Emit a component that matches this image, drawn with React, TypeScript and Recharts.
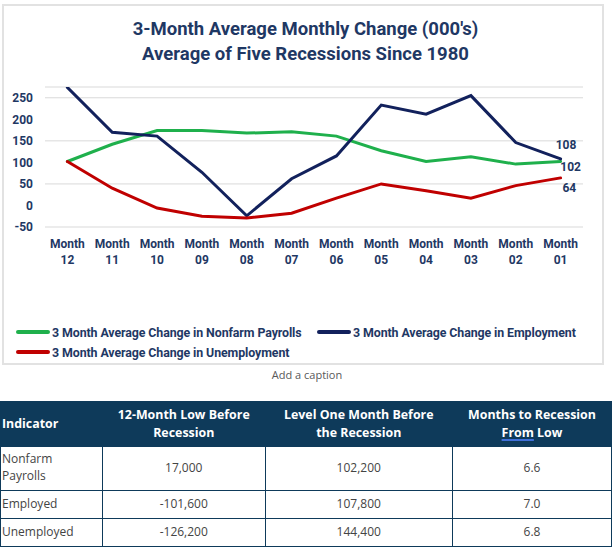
import React from 'react';
import { LineChart, Line, XAxis, YAxis, CartesianGrid, Legend, LabelList } from 'recharts';

const months = ['Month 12', 'Month 11', 'Month 10', 'Month 09', 'Month 08', 'Month 07', 'Month 06', 'Month 05', 'Month 04', 'Month 03', 'Month 02', 'Month 01'];
const nonfarm = [102, 142, 174, 174, 168, 171, 161, 127, 102, 113, 96, 102];
const employment = [274, 170, 161, 77, -24, 62, 115, 233, 212, 255, 146, 108];
const unemployment = [102, 40, -6, -25, -29, -18, 17, 50, 34, 17, 46, 64];
const yTicks = [-50, 0, 50, 100, 150, 200, 250];

const seriesNames = [
  '3 Month Average Change in Nonfarm Payrolls',
  '3 Month Average Change in Employment',
  '3 Month Average Change in Unemployment',
];
const titleLines = ["3-Month Average Monthly Change (000's)", 'Average of Five Recessions Since 1980'];

const tableHeaders = [
  ['Indicator'],
  ['12-Month Low Before', 'Recession'],
  ['Level One Month Before', 'the Recession'],
  ['Months to Recession', 'From Low'],
];
const indicators = [['Nonfarm', 'Payrolls'], ['Employed'], ['Unemployed']];
const lowBefore = ['17,000', '-101,600', '-126,200'];
const levelBefore = ['102,200', '107,800', '144,400'];
const monthsFromLow = ['6.6', '7.0', '6.8'];

const data = months.map((m, i) => ({
  month: m,
  nonfarm: nonfarm[i],
  employment: employment[i],
  unemployment: unemployment[i],
}));

const NAVY_TEXT = '#1f3864';
const GREEN = '#1fb04c';
const NAVY = '#12215c';
const RED = '#c00000';
const FONT = 'Roboto, sans-serif';
const TABLE_NAVY = '#0e3a5a';

const XTick = (props: any) => {
  const { x, y, payload } = props;
  const parts = String(payload.value).split(' ');
  return (
    <g>
      <text x={x} y={y} textAnchor="middle" fill={NAVY_TEXT} fontFamily={FONT} fontWeight={700} fontSize={12}>
        <tspan x={x} dy={13.3}>{parts[0]}</tspan>
        <tspan x={x} dy={16}>{parts[1]}</tspan>
      </text>
    </g>
  );
};

const endLabel = (dx: number, dy: number) => (props: any) => {
  const { x, y, value, index } = props;
  if (index !== months.length - 1) return null;
  return (
    <text x={x + dx} y={y + dy + 4.3} textAnchor="middle" fill={NAVY_TEXT} fontFamily={FONT} fontWeight={700} fontSize={12}>
      {value}
    </text>
  );
};

const LegendContent = () => {
  const items = [
    { name: seriesNames[0], color: GREEN, left: 14, top: 1 },
    { name: seriesNames[1], color: NAVY, left: 315, top: 1 },
    { name: seriesNames[2], color: RED, left: 14, top: 21 },
  ];
  return (
    <div style={{ position: 'relative', width: 602, height: 44 }}>
      {items.map((it) => (
        <div key={it.name} style={{ position: 'absolute', left: it.left, top: it.top, height: 20, display: 'flex', alignItems: 'center', whiteSpace: 'nowrap' }}>
          <div style={{ width: 34, height: 4, borderRadius: 2, background: it.color, marginRight: 2 }} />
          <span style={{ fontFamily: FONT, fontWeight: 700, fontSize: 12.4, color: NAVY_TEXT, letterSpacing: -0.1 }}>{it.name}</span>
        </div>
      ))}
    </div>
  );
};

const cellBase: React.CSSProperties = {
  border: `1px solid ${TABLE_NAVY}`,
  padding: 0,
  fontFamily: '"Open Sans", sans-serif',
  fontSize: 12,
  color: '#444',
  lineHeight: '16.7px',
  textAlign: 'center',
  verticalAlign: 'middle',
};

export default function App() {
  const rowHeights = [43, 27, 27];
  return (
    <div style={{ position: 'relative', width: 614, height: 550, background: '#fff', overflow: 'hidden' }}>
      <style>{`body{margin:0;}`}</style>
      <div style={{ position: 'absolute', left: 2, top: 4, width: 602, height: 361, border: '2px solid #e2e2e2', boxSizing: 'border-box' }} />
      <div style={{ position: 'absolute', left: 0, top: 16.5, width: 611, textAlign: 'center', fontFamily: FONT, fontWeight: 700, fontSize: 18.5, lineHeight: '25px', color: NAVY_TEXT }}>
        {titleLines.map((t) => (
          <div key={t}>{t}</div>
        ))}
      </div>
      <div style={{ position: 'absolute', left: 2, top: 4 }}>
        <LineChart width={602} height={361} data={data} margin={{ top: 83, right: 21, bottom: 0, left: 0 }}>
          <CartesianGrid horizontal vertical={false} stroke="#d9d9d9" strokeWidth={1} />
          <XAxis
            dataKey="month"
            interval={0}
            axisLine={false}
            tickLine={false}
            tickSize={6}
            tickMargin={2}
            height={94}
            padding={{ left: 22.4, right: 22.4 }}
            tick={<XTick />}
          />
          <YAxis
            width={43}
            domain={[-50, 275]}
            ticks={yTicks}
            allowDataOverflow
            axisLine={false}
            tickLine={false}
            tickSize={0}
            tickMargin={12}
            tick={{ fill: NAVY_TEXT, fontFamily: FONT, fontWeight: 700, fontSize: 12 }}
          />
          <Legend verticalAlign="bottom" align="left" wrapperStyle={{ left: 0, bottom: 0, width: 602, height: 44 }} content={() => <LegendContent />} />
          <Line type="linear" dataKey="nonfarm" name={seriesNames[0]} stroke={GREEN} strokeWidth={3} dot={false} isAnimationActive={false} strokeLinecap="round">
            <LabelList dataKey="nonfarm" content={endLabel(10, 5.3)} />
          </Line>
          <Line type="linear" dataKey="employment" name={seriesNames[1]} stroke={NAVY} strokeWidth={3} dot={false} isAnimationActive={false} strokeLinecap="round">
            <LabelList dataKey="employment" content={endLabel(5.4, -14.2)} />
          </Line>
          <Line type="linear" dataKey="unemployment" name={seriesNames[2]} stroke={RED} strokeWidth={3} dot={false} isAnimationActive={false} strokeLinecap="round">
            <LabelList dataKey="unemployment" content={endLabel(8.7, 10.1)} />
          </Line>
        </LineChart>
      </div>
      <div style={{ position: 'absolute', left: 0, top: 367, width: 614, textAlign: 'center', fontFamily: '"Open Sans", sans-serif', fontSize: 11, lineHeight: '16px', color: '#595959' }}>
        Add a caption
      </div>
      <table style={{ position: 'absolute', left: 0, top: 400.5, width: 611, borderCollapse: 'collapse', tableLayout: 'fixed' }}>
        <colgroup>
          <col style={{ width: 102 }} />
          <col style={{ width: 162.5 }} />
          <col style={{ width: 187.5 }} />
          <col style={{ width: 159 }} />
        </colgroup>
        <thead>
          <tr>
            {tableHeaders.map((h, i) => (
              <th
                key={i}
                style={{
                  ...cellBase,
                  background: TABLE_NAVY,
                  color: '#fff',
                  fontWeight: 700,
                  fontSize: 12.4,
                  lineHeight: '17.4px',
                  height: 44,
                  textAlign: i === 0 ? 'left' : 'center',
                  paddingLeft: i === 0 ? 1 : 0,
                }}
              >
                {h.map((line, j) => (
                  <div key={j}>
                    {i === 3 && j === 1 ? (
                      <>
                        <span style={{ textDecoration: 'underline', textDecorationColor: '#3f6fd8', textDecorationThickness: 2, textUnderlineOffset: 2 }}>
                          {line.split(' ')[0]}
                        </span>{' '}
                        {line.split(' ').slice(1).join(' ')}
                      </>
                    ) : (
                      line
                    )}
                  </div>
                ))}
              </th>
            ))}
          </tr>
        </thead>
        <tbody>
          {indicators.map((ind, r) => (
            <tr key={r}>
              <td style={{ ...cellBase, textAlign: 'left', paddingLeft: 1, height: rowHeights[r] }}>
                {ind.map((l, j) => (
                  <div key={j}>{l}</div>
                ))}
              </td>
              <td style={{ ...cellBase, height: rowHeights[r] }}>{lowBefore[r]}</td>
              <td style={{ ...cellBase, height: rowHeights[r] }}>{levelBefore[r]}</td>
              <td style={{ ...cellBase, height: rowHeights[r] }}>{monthsFromLow[r]}</td>
            </tr>
          ))}
        </tbody>
      </table>
    </div>
  );
}
